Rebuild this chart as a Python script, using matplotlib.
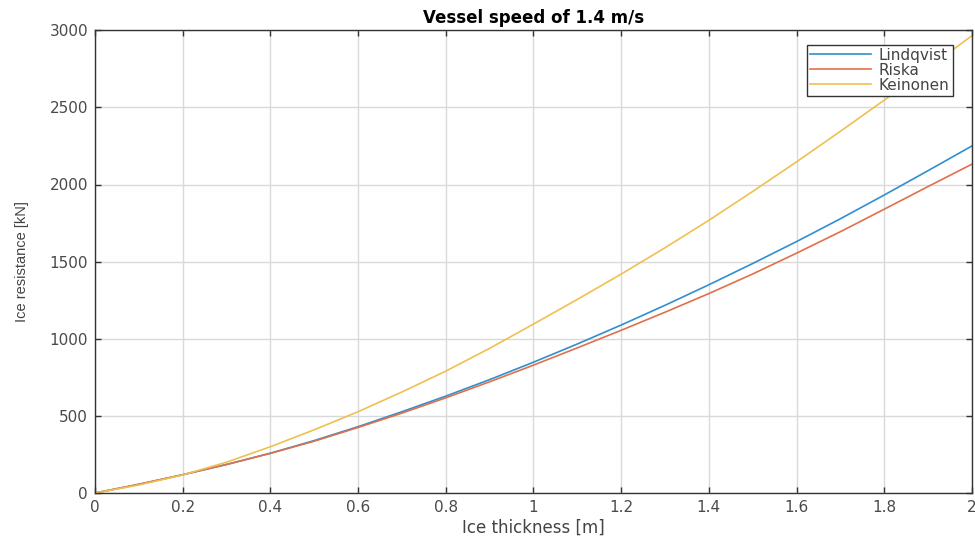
import numpy as np
import matplotlib
matplotlib.use("Agg")
import matplotlib.pyplot as plt

# ice thickness [m]
thickness = [0.0, 0.1, 0.2, 0.3, 0.4, 0.5, 0.6, 0.7, 0.8, 0.9, 1.0,
             1.1, 1.2, 1.3, 1.4, 1.5, 1.6, 1.7, 1.8, 1.9, 2.0]

# ice resistance [kN] for each method
lindqvist = [0, 56, 118, 185, 258, 340, 430, 527, 628, 735, 848,
             966, 1089, 1217, 1350, 1488, 1630, 1778, 1932, 2090, 2250]
riska = [0, 57, 119, 185, 257, 336, 425, 518, 617, 721, 829,
         941, 1055, 1172, 1293, 1420, 1555, 1694, 1840, 1987, 2132]
keinonen = [0, 52, 117, 200, 300, 410, 527, 655, 790, 938, 1095,
            1255, 1419, 1590, 1768, 1955, 2147, 2345, 2547, 2755, 2965]

labels = ["Lindqvist", "Riska", "Keinonen"]
colors = ["#2f8fd0", "#e0704a", "#efc050"]

plt.rcParams['font.family'] = ['DejaVu Sans']

fig = plt.figure(figsize=(9.75, 5.4), dpi=100)
ax = fig.add_axes([0.0974, 0.087, 0.8995, 0.857])

for ys, lab, c in zip([lindqvist, riska, keinonen], labels, colors):
    ax.plot(thickness, ys, color=c, lw=1.2, label=lab)

ax.set_xlim(0, 2)
ax.set_ylim(0, 3000)
ax.set_xticks(np.arange(0, 2.01, 0.2))
ax.set_xticklabels(["0", "0.2", "0.4", "0.6", "0.8", "1", "1.2", "1.4", "1.6", "1.8", "2"])
ax.set_yticks(np.arange(0, 3001, 500))

ax.grid(True, color="#d9d9d9", lw=1.0)
ax.set_axisbelow(True)
for s in ax.spines.values():
    s.set_color("#333333")
    s.set_linewidth(1.0)
ax.tick_params(direction="in", length=4, width=1.0, colors="#333333",
               labelcolor="#4a4a4a", labelsize=11, top=True, right=True, pad=5)

ax.set_xlabel("Ice thickness [m]", fontsize=12, color="#444444", labelpad=3)
ax.set_ylabel("Ice resistance [kN]", fontsize=10.5, color="#444444", labelpad=15,
              family="Liberation Sans")
ax.set_title("Vessel speed of 1.4 m/s", fontsize=12, fontweight="bold", pad=5)

leg = ax.legend(loc="upper right", fontsize=11, handlelength=4.0, frameon=True,
                fancybox=False, edgecolor="#333333", framealpha=1.0,
                borderpad=0.2, labelspacing=0.0, handletextpad=0.5,
                borderaxespad=0.0, bbox_to_anchor=(0.978, 0.969))
leg.get_frame().set_linewidth(1.0)
for t in leg.get_texts():
    t.set_color("#444444")

fig.savefig("out.png", dpi=100)
